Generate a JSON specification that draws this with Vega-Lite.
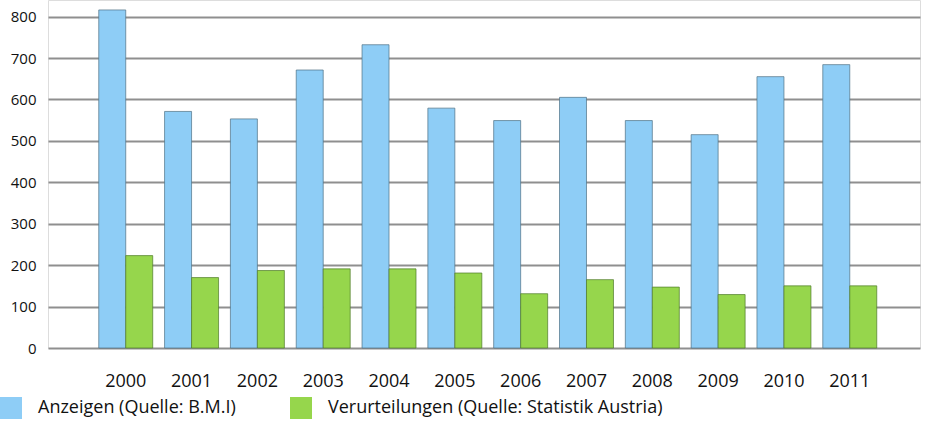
{
  "$schema": "https://vega.github.io/schema/vega-lite/v6.json",
  "width": 872,
  "height": 348,
  "autosize": {"type": "none"},
  "padding": {"left": 48, "top": 0, "right": 8, "bottom": 83},
  "background": "white",
  "data": {
    "values": [
      {"year": "2000", "series": "Anzeigen (Quelle: B.M.I)", "value": 816},
      {"year": "2000", "series": "Verurteilungen (Quelle: Statistik Austria)", "value": 223},
      {"year": "2001", "series": "Anzeigen (Quelle: B.M.I)", "value": 571},
      {"year": "2001", "series": "Verurteilungen (Quelle: Statistik Austria)", "value": 170},
      {"year": "2002", "series": "Anzeigen (Quelle: B.M.I)", "value": 553},
      {"year": "2002", "series": "Verurteilungen (Quelle: Statistik Austria)", "value": 187},
      {"year": "2003", "series": "Anzeigen (Quelle: B.M.I)", "value": 671},
      {"year": "2003", "series": "Verurteilungen (Quelle: Statistik Austria)", "value": 191},
      {"year": "2004", "series": "Anzeigen (Quelle: B.M.I)", "value": 732},
      {"year": "2004", "series": "Verurteilungen (Quelle: Statistik Austria)", "value": 191},
      {"year": "2005", "series": "Anzeigen (Quelle: B.M.I)", "value": 579},
      {"year": "2005", "series": "Verurteilungen (Quelle: Statistik Austria)", "value": 181},
      {"year": "2006", "series": "Anzeigen (Quelle: B.M.I)", "value": 549},
      {"year": "2006", "series": "Verurteilungen (Quelle: Statistik Austria)", "value": 131},
      {"year": "2007", "series": "Anzeigen (Quelle: B.M.I)", "value": 605},
      {"year": "2007", "series": "Verurteilungen (Quelle: Statistik Austria)", "value": 165},
      {"year": "2008", "series": "Anzeigen (Quelle: B.M.I)", "value": 549},
      {"year": "2008", "series": "Verurteilungen (Quelle: Statistik Austria)", "value": 147},
      {"year": "2009", "series": "Anzeigen (Quelle: B.M.I)", "value": 515},
      {"year": "2009", "series": "Verurteilungen (Quelle: Statistik Austria)", "value": 129},
      {"year": "2010", "series": "Anzeigen (Quelle: B.M.I)", "value": 655},
      {"year": "2010", "series": "Verurteilungen (Quelle: Statistik Austria)", "value": 150},
      {"year": "2011", "series": "Anzeigen (Quelle: B.M.I)", "value": 684},
      {"year": "2011", "series": "Verurteilungen (Quelle: Statistik Austria)", "value": 150}
    ]
  },
  "mark": {"type": "bar", "strokeWidth": 1, "strokeOpacity": 0.7},
  "encoding": {
    "x": {
      "field": "year",
      "type": "nominal",
      "scale": {"paddingInner": 0.18, "paddingOuter": 0.714, "align": 0.54},
      "axis": {
        "title": null,
        "labelAngle": 0,
        "labelFontSize": 18,
        "labelFont": "Open Sans",
        "labelColor": "#111111",
        "labelPadding": 24,
        "ticks": false,
        "domain": false,
        "grid": false
      }
    },
    "xOffset": {"field": "series", "type": "nominal"},
    "y": {
      "field": "value",
      "type": "quantitative",
      "scale": {"domain": [0, 840], "nice": false},
      "axis": {
        "title": null,
        "values": [0, 100, 200, 300, 400, 500, 600, 700, 800],
        "labelFontSize": 15,
        "labelFont": "Open Sans",
        "labelColor": "#111111",
        "labelPadding": 12,
        "ticks": false,
        "domain": false,
        "gridColor": "#8f8f8f",
        "gridWidth": 2
      }
    },
    "color": {
      "field": "series",
      "type": "nominal",
      "scale": {
        "domain": ["Anzeigen (Quelle: B.M.I)", "Verurteilungen (Quelle: Statistik Austria)"],
        "range": ["#8ecdf6", "#96d64c"]
      },
      "legend": {
        "orient": "none",
        "legendX": -48,
        "legendY": 397,
        "direction": "horizontal",
        "title": null,
        "symbolType": "square",
        "symbolSize": 484,
        "symbolStrokeWidth": 0,
        "labelFontSize": 18,
        "labelFont": "Open Sans",
        "labelColor": "#111111",
        "labelLimit": 500,
        "labelOffset": 16,
        "columnPadding": 54,
        "padding": 0
      }
    },
    "stroke": {
      "field": "series",
      "type": "nominal",
      "scale": {
        "domain": ["Anzeigen (Quelle: B.M.I)", "Verurteilungen (Quelle: Statistik Austria)"],
        "range": ["#4f7085", "#4f7a2a"]
      },
      "legend": null
    }
  }
}
